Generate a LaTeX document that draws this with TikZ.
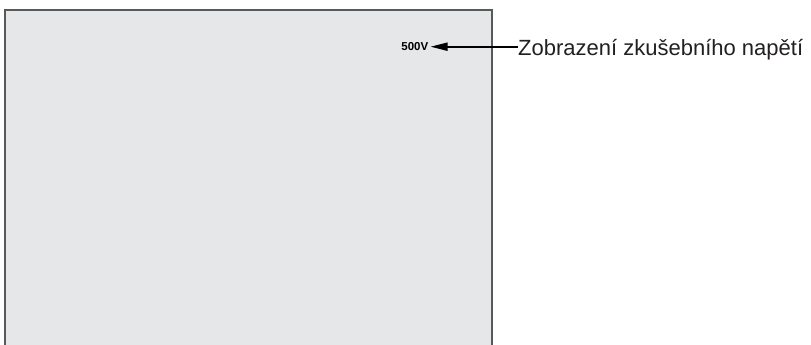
\documentclass[tikz,border=0pt]{standalone}
\usepackage{fontspec}
\setmainfont{Liberation Sans}
\usetikzlibrary{arrows.meta}
\definecolor{panelfill}{HTML}{E6E7E8}
\definecolor{panelline}{HTML}{58595B}
\definecolor{labeltext}{HTML}{231F20}
\begin{document}
\begin{tikzpicture}[x=1pt,y=-1pt,
  callout/.style={line width=1.8pt,-{Triangle[length=17pt,width=8pt]}},
  reading/.style={font=\bfseries\fontsize{11.5}{13}\selectfont,inner sep=0pt,anchor=base east},
  caption/.style={font=\fontsize{22}{26}\selectfont,text=labeltext,inner sep=0pt,anchor=base west}]
\useasboundingbox (0,0) rectangle (811,345);
% display panel, open at the bottom
\fill[panelfill] (5,10) rectangle (492,346);
\draw[panelline,line width=1.5pt] (5,346) -- (5,10) -- (492,10) -- (492,346);
% test voltage reading and its callout
\node[reading] (volt) at (428.5,50.7) {500V};
\node[caption] (cap) at (518,55.5) {Zobrazení zkušebního napětí};
\draw[callout] ([yshift=8.8pt]cap.base west) -- ([xshift=2pt,yshift=4pt]volt.base east);
\end{tikzpicture}
\end{document}
